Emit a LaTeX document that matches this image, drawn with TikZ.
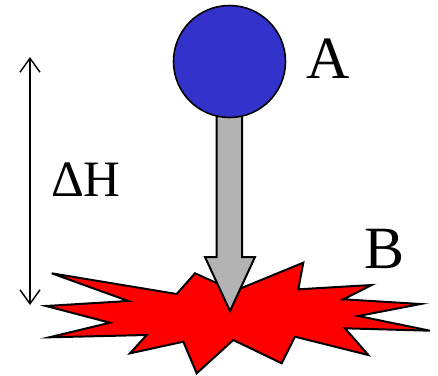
\documentclass[tikz,border=0pt]{standalone}
\usepackage{fontspec}
\setmainfont{Liberation Serif}
\usetikzlibrary{arrows.meta}
\definecolor{ballblue}{RGB}{51,51,204}
\definecolor{arrowgray}{RGB}{179,179,179}
\begin{document}
\begin{tikzpicture}[x=1pt,y=-1pt,
  outl/.style={draw=black,line width=2pt,line join=miter},
  lbl/.style={anchor=base west,inner sep=0pt,font=\fontsize{60}{60}\selectfont}]
\useasboundingbox (0,0) rectangle (438,375);
% star B
\draw[outl,fill=red] (51.7,273.3) -- (176.7,294) -- (195,273.3) -- (234.3,291)
  -- (303.3,262.7) -- (298.3,289.3) -- (371.7,285) -- (343.3,299.3)
  -- (420.7,304) -- (358.3,316) -- (430,330.7) -- (345,328.3)
  -- (368.3,355) -- (295,336.7) -- (281.7,363.3) -- (233.3,340)
  -- (196.7,373.3) -- (183.3,341.7) -- (130,353.3) -- (146.7,335)
  -- (49.3,337.3) -- (110,322.7) -- (46,306) -- (128.3,301) -- cycle;
% falling arrow
\draw[outl,fill=arrowgray] (216.5,110) -- (242,110) -- (242,257) -- (255,257)
  -- (230,311) -- (205,257) -- (216.5,257) -- cycle;
% ball A
\node[circle,draw=black,line width=1.6pt,fill=ballblue,minimum size=112pt,inner sep=0pt] (ball) at (229.5,61.5) {};
% labels
\node[lbl] (A) at (306,78) {A};
\node[lbl] (B) at (364,268) {B};
\node[lbl,font=\fontsize{51}{51}\selectfont] (dH) at (51,196) {ΔH};
% height arrow
\coordinate (top) at (30,57);
\coordinate (bot) at (30,305);
\draw[line width=1.4pt,{Straight Barb[length=14pt,width=20pt,line width=1.4pt]}-{Straight Barb[length=14pt,width=20pt,line width=1.4pt]}] (top) -- (bot);
\end{tikzpicture}
\end{document}
